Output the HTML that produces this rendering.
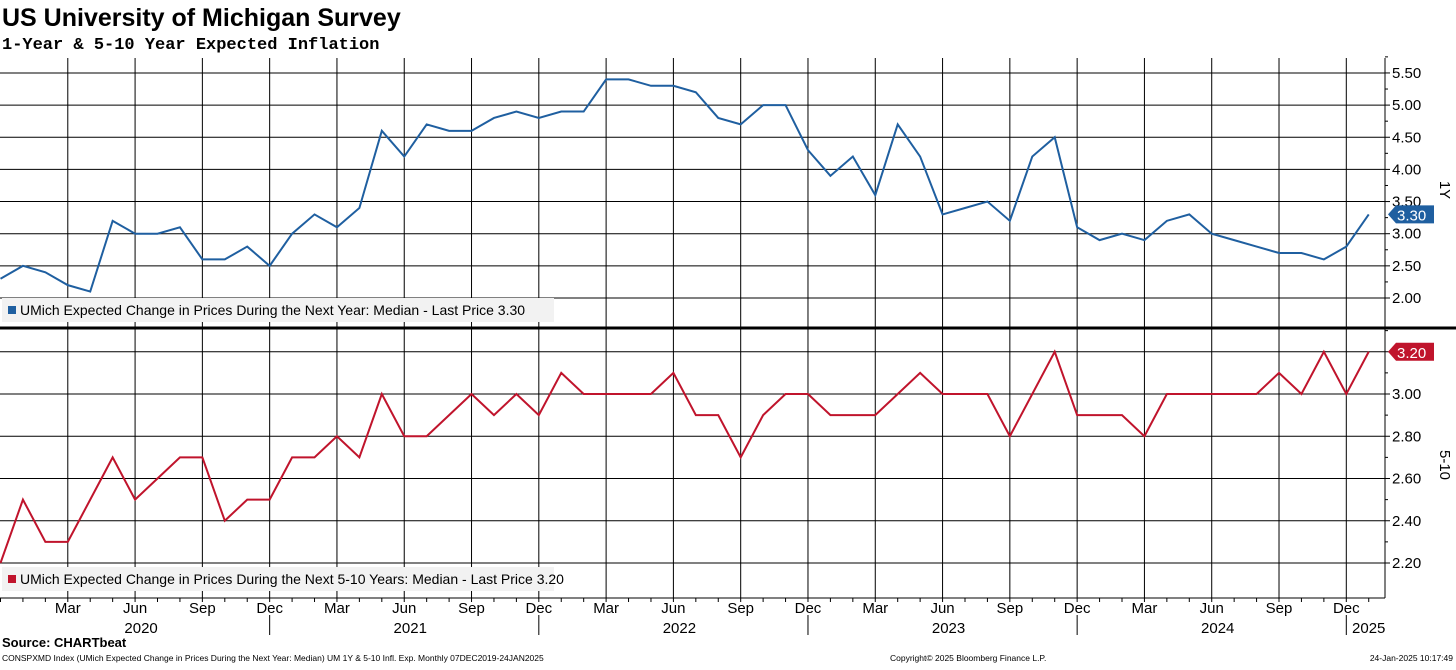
<!DOCTYPE html>
<html><head><meta charset="utf-8"><style>
body{margin:0;background:#fff;width:1456px;height:665px;overflow:hidden;font-family:"Liberation Sans","DejaVu Sans",sans-serif}
</style></head><body>
<svg id="c" width="1456" height="665" xmlns="http://www.w3.org/2000/svg">
<text x="2" y="26" font-size="25" font-weight="bold" fill="#000">US University of Michigan Survey</text>
<text x="2" y="49" font-size="17" font-weight="bold" fill="#000" font-family="Liberation Mono, monospace">1-Year &amp; 5-10 Year Expected Inflation</text>
<text x="2" y="647" font-size="13" font-weight="bold">Source: CHARTbeat</text>
<text x="2" y="661" font-size="8.5">CONSPXMD Index (UMich Expected Change in Prices During the Next Year: Median) UM 1Y &amp; 5-10 Infl. Exp.  Monthly 07DEC2019-24JAN2025</text>
<text x="890" y="661" font-size="8.5">Copyright© 2025 Bloomberg Finance L.P.</text>
<text x="1453" y="661" font-size="8.5" text-anchor="end">24-Jan-2025 10:17:49</text>
<g id="g"></g>
</svg>
<script>
const months=["Dec19","Jan20","Feb20","Mar20","Apr20","May20","Jun20","Jul20","Aug20","Sep20","Oct20","Nov20","Dec20","Jan21","Feb21","Mar21","Apr21","May21","Jun21","Jul21","Aug21","Sep21","Oct21","Nov21","Dec21","Jan22","Feb22","Mar22","Apr22","May22","Jun22","Jul22","Aug22","Sep22","Oct22","Nov22","Dec22","Jan23","Feb23","Mar23","Apr23","May23","Jun23","Jul23","Aug23","Sep23","Oct23","Nov23","Dec23","Jan24","Feb24","Mar24","Apr24","May24","Jun24","Jul24","Aug24","Sep24","Oct24","Nov24","Dec24","Jan25"];
const oneYear=[2.3,2.5,2.4,2.2,2.1,3.2,3.0,3.0,3.1,2.6,2.6,2.8,2.5,3.0,3.3,3.1,3.4,4.6,4.2,4.7,4.6,4.6,4.8,4.9,4.8,4.9,4.9,5.4,5.4,5.3,5.3,5.2,4.8,4.7,5.0,5.0,4.3,3.9,4.2,3.6,4.7,4.2,3.3,3.4,3.5,3.2,4.2,4.5,3.1,2.9,3.0,2.9,3.2,3.3,3.0,2.9,2.8,2.7,2.7,2.6,2.8,3.3];
const fiveTen=[2.2,2.5,2.3,2.3,2.5,2.7,2.5,2.6,2.7,2.7,2.4,2.5,2.5,2.7,2.7,2.8,2.7,3.0,2.8,2.8,2.9,3.0,2.9,3.0,2.9,3.1,3.0,3.0,3.0,3.0,3.1,2.9,2.9,2.7,2.9,3.0,3.0,2.9,2.9,2.9,3.0,3.1,3.0,3.0,3.0,2.8,3.0,3.2,2.9,2.9,2.9,2.8,3.0,3.0,3.0,3.0,3.0,3.1,3.0,3.2,3.0,3.2];
const topTicks=[2.0,2.5,3.0,3.5,4.0,4.5,5.0,5.5];
const botTicks=[2.2,2.4,2.6,2.8,3.0,3.2];
const quarterLabels=["Mar","Jun","Sep","Dec"];
const NS="http://www.w3.org/2000/svg",g=document.getElementById('g');
const R=1385,step=22.43;
const x=i=>0.5+i*step;
const yTop=v=>298-(v-2)*64.3;
const yBot=v=>563-(v-2.2)*211.25;
function el(t,a,p){const e=document.createElementNS(NS,t);for(const k in a)e.setAttribute(k,a[k]);(p||g).appendChild(e);return e;}
topTicks.forEach(v=>{const l=el('line',{x1:0,x2:R,y1:yTop(v),y2:yTop(v),stroke:'#000','stroke-width':1});


const t=el('text',{x:1392,y:yTop(v)+5,'font-size':15});t.textContent=v.toFixed(2);


el('line',{x1:R,x2:R+5,y1:yTop(v),y2:yTop(v),stroke:'#000'});
el('line',{x1:R,x2:R+3,y1:yTop(v+0.25),y2:yTop(v+0.25),stroke:'#000'});});
botTicks.forEach(v=>{const l=el('line',{x1:0,x2:R,y1:yBot(v),y2:yBot(v),stroke:'#000','stroke-width':1});


el('line',{x1:R,x2:R+5,y1:yBot(v),y2:yBot(v),stroke:'#000'});
el('line',{x1:R,x2:R+3,y1:yBot(v+0.1),y2:yBot(v+0.1),stroke:'#000'});
if(v<3.19){const t=el('text',{x:1392,y:yBot(v)+5,'font-size':15});t.textContent=v.toFixed(2);

}});
months.forEach((m,i)=>{const mo=m.slice(0,3);const X=x(i);
el('line',{x1:X,x2:X,y1:598,y2:602,stroke:'#000'});
const qi=quarterLabels.indexOf(mo);
if(qi>=0&&i>0){const l=el('line',{x1:X,x2:X,y1:58,y2:598,stroke:'#000','stroke-width':1});


const t=el('text',{x:X,y:613,'font-size':15,'text-anchor':'middle'});t.textContent=quarterLabels[qi];


if(mo==="Dec")el('line',{x1:X,x2:X,y1:615,y2:635,stroke:'#000'});}
if(mo==="Jun"){const t=el('text',{x:X+6,y:633,'font-size':15,'text-anchor':'middle'});t.textContent="20"+m.slice(3);

}});
{const t=el('text',{x:x(61),y:633,'font-size':15,'text-anchor':'middle'});t.textContent="20"+months[61].slice(3);

}
el('line',{x1:R,x2:R,y1:58,y2:598,stroke:'#000'});
el('line',{x1:0,x2:R,y1:598,y2:598,stroke:'#000'});
el('line',{x1:0,x2:1456,y1:328,y2:328,stroke:'#000','stroke-width':3});
function legend(y,txt,col,nm){const r=el('rect',{x:2,y:y-13,width:552,height:24,fill:'#f2f2f2'});


el('rect',{x:8,y:y-5,width:8,height:8,fill:col});
const t=el('text',{x:20,y:y+4,'font-size':14});t.textContent=txt;

}
legend(311,"UMich Expected Change in Prices During the Next Year: Median - Last Price 3.30","#1f5fa0","legend-1y");
legend(580,"UMich Expected Change in Prices During the Next 5-10 Years: Median - Last Price 3.20","#c0142c","legend-5-10y");
const p1=el('polyline',{points:oneYear.map((v,i)=>x(i)+','+yTop(v)).join(' '),fill:'none',stroke:'#1f5fa0','stroke-width':2});


const p2=el('polyline',{points:fiveTen.map((v,i)=>x(i)+','+yBot(v)).join(' '),fill:'none',stroke:'#c0142c','stroke-width':2});


function tag(y,v,col,nm){const p=el('polygon',{points:`1388,${y} 1396,${y-9} 1434,${y-9} 1434,${y+9} 1396,${y+9}`,fill:col});


const t=el('text',{x:1397,y:y+6,'font-size':15,fill:'#fff'});t.textContent=v.toFixed(2);}
tag(yTop(oneYear[61]),oneYear[61],"#1f5fa0","last-price-1y");
tag(yBot(fiveTen[61]),fiveTen[61],"#c0142c","last-price-5-10y");
const a1=el('text',{x:1440,y:190,'font-size':15,transform:'rotate(90 1440 190)','text-anchor':'middle'});a1.textContent="1Y";


const a2=el('text',{x:1440,y:465,'font-size':15,transform:'rotate(90 1440 465)','text-anchor':'middle'});a2.textContent="5-10";


</script>
</body></html>
